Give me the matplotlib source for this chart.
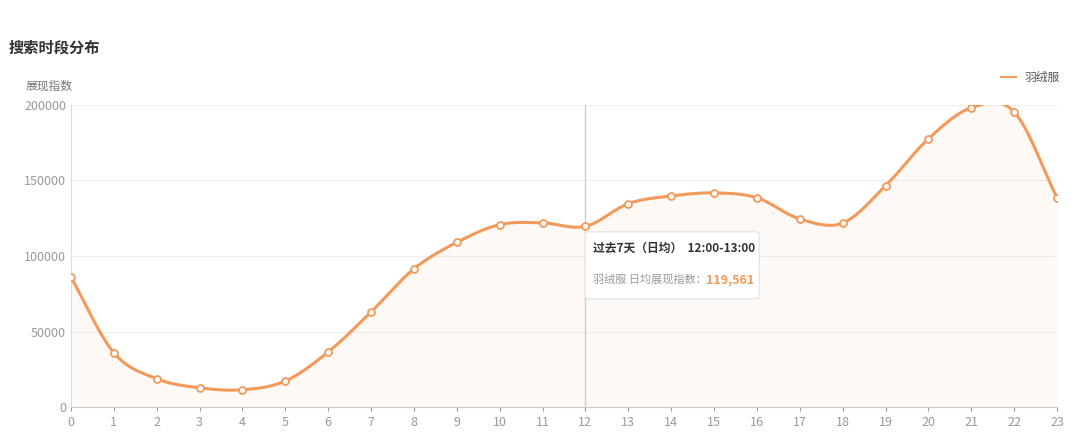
import numpy as np
import matplotlib.pyplot as plt
from matplotlib.patches import FancyBboxPatch

plt.rcParams['font.family'] = ['Noto Sans CJK SC', 'DejaVu Sans']

hours = list(range(24))
values = [86000, 36000, 18800, 12800, 11500, 17300, 36500, 63000, 91500, 109000,
          120700, 121900, 119561, 134600, 139700, 141700, 138500, 124500, 121800,
          146400, 177500, 198000, 195300, 138500]
yticks = [0, 50000, 100000, 150000, 200000]
series_name = '羽绒服'
color = '#F39A5B'


def smooth(x, y, n=20):
    # catmull-rom style hermite curve through the points
    x = np.asarray(x, float)
    y = np.asarray(y, float)
    m = np.gradient(y, x)
    xs, ys = [], []
    for i in range(len(x) - 1):
        t = np.linspace(0, 1, n, endpoint=False)
        h = x[i + 1] - x[i]
        h00 = 2 * t**3 - 3 * t**2 + 1
        h10 = t**3 - 2 * t**2 + t
        h01 = -2 * t**3 + 3 * t**2
        h11 = t**3 - t**2
        xs.append(x[i] + t * h)
        ys.append(h00 * y[i] + h10 * h * m[i] + h01 * y[i + 1] + h11 * h * m[i + 1])
    xs.append([x[-1]])
    ys.append([y[-1]])
    return np.concatenate(xs), np.concatenate(ys)


fig = plt.figure(figsize=(10.8, 4.44), dpi=100)
ax = fig.add_axes([0.0657, 0.083, 0.913, 0.681])

sx, sy = smooth(hours, values)
ax.fill_between(sx, sy, 0, color=color, alpha=0.06, lw=0)
ax.plot(sx, sy, color=color, lw=2.2, zorder=3)
ax.plot(hours, values, 'o', ms=5, mfc='white', mec=color, mew=1.3, zorder=4)

ax.set_xlim(0, 23)
ax.set_ylim(0, 200000)
ax.set_xticks(hours)
ax.set_yticks(yticks)
ax.set_yticklabels([str(v) for v in yticks])
ax.tick_params(colors='#999999', labelsize=9, length=3)
ax.tick_params(axis='y', length=0)
ax.grid(axis='y', color='#eeeeee', lw=0.8)
for s in ['top', 'right']:
    ax.spines[s].set_visible(False)
ax.spines['left'].set_color('#dddddd')
ax.spines['bottom'].set_color('#cccccc')
ax.set_axisbelow(True)

ax.axvline(12, color='#cccccc', lw=1, zorder=2)

fig.text(0.008, 0.893, '搜索时段分布', fontsize=11, fontweight='bold', color='#333333', va='center')
fig.text(0.024, 0.806, '展现指数', fontsize=8.5, color='#777777', va='center')
fig.lines.append(plt.Line2D([0.927, 0.941], [0.826, 0.826], transform=fig.transFigure, color=color, lw=1.5))
fig.text(0.949, 0.826, series_name, fontsize=8.5, color='#555555', va='center')

# tooltip
box = FancyBboxPatch((0.545, 0.33), 0.155, 0.145, boxstyle='round,pad=0.003,rounding_size=0.005',
                     transform=fig.transFigure, fc='white', ec='#e6e6e6', lw=1, zorder=10)
fig.patches.append(box)
fig.text(0.549, 0.44, '过去7天（日均）  12:00-13:00', fontsize=8.5, fontweight='bold', color='#333333', va='center', zorder=11)
fig.text(0.549, 0.37, series_name + ' 日均展现指数：', fontsize=8, color='#999999', va='center', zorder=11)
fig.text(0.654, 0.37, f'{values[12]:,}', fontsize=9, fontweight='bold', color=color, va='center', zorder=11)

fig.savefig('out.png', dpi=100)
